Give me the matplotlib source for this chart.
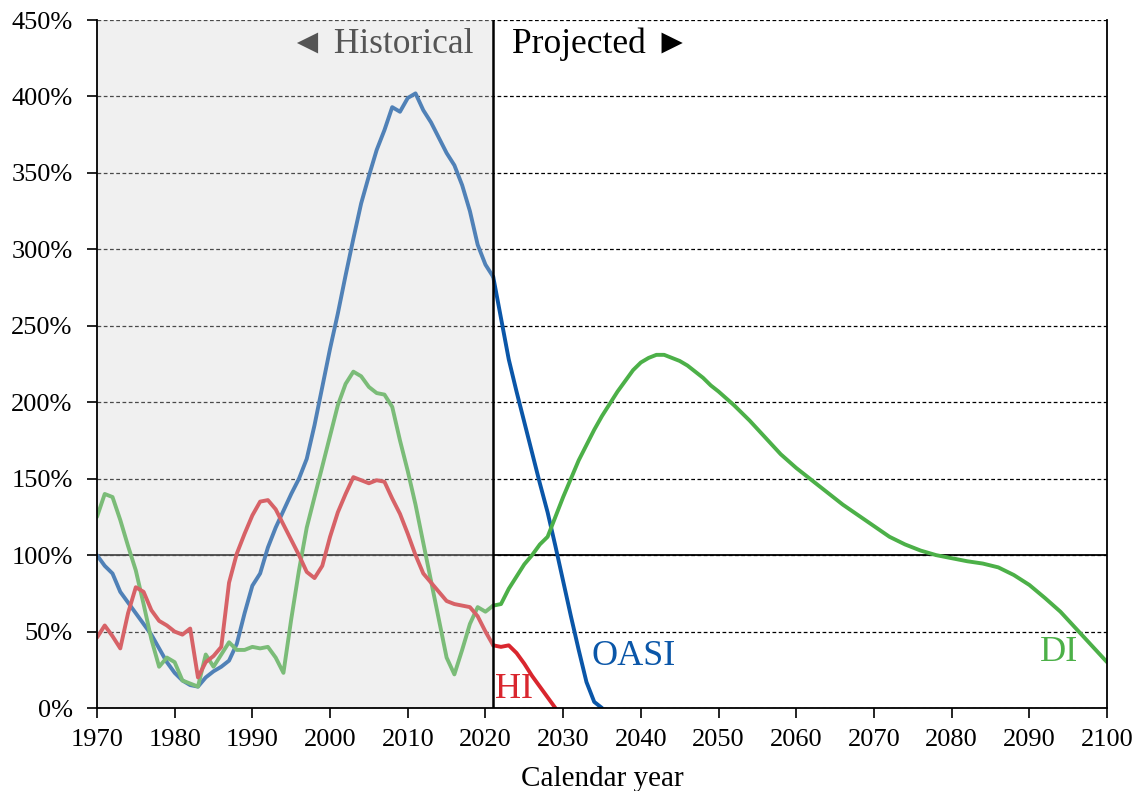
import numpy as np
import matplotlib
matplotlib.use('Agg')
import matplotlib.pyplot as plt
from matplotlib.patches import Rectangle
from matplotlib import ticker

plt.rcParams['font.family'] = ['Liberation Serif', 'DejaVu Sans']

# historical trust fund ratios, 1970-2021 (percent)
hist_years = list(range(1970, 2022))
oasi_hist = [100, 93, 88, 76, 69, 62, 55, 48, 39, 30,
             23, 18, 15, 14, 20, 24, 27, 31, 42, 62,
             80, 88, 105, 118, 129, 140, 150, 163, 185, 210,
             235, 258, 283, 307, 330, 348, 365, 378, 393, 390,
             399, 402, 391, 383, 373, 363, 355, 342, 325, 303,
             290, 282]
di_hist = [125, 140, 138, 123, 106, 90, 68, 45, 27, 33,
           30, 18, 16, 14, 35, 27, 35, 43, 38, 38,
           40, 39, 40, 33, 23, 58, 90, 118, 138, 158,
           178, 198, 212, 220, 217, 210, 206, 205, 197, 175,
           155, 133, 108, 83, 58, 33, 22, 38, 55, 66,
           63, 67]
hi_hist = [46, 54, 47, 39, 62, 79, 76, 64, 57, 54,
           50, 48, 52, 20, 30, 34, 40, 82, 101, 114,
           126, 135, 136, 130, 120, 110, 100, 89, 85, 93,
           112, 128, 140, 151, 149, 147, 149, 148, 137, 127,
           114, 100, 88, 82, 76, 70, 68, 67, 66, 60,
           50, 41]

# projections
oasi_proj_years = list(range(2021, 2036))
oasi_proj = [282, 255, 228, 207, 187, 167, 147, 128, 106, 83, 60, 38, 17, 4, 0]

hi_proj_years = list(range(2021, 2030))
hi_proj = [41, 40, 41, 36, 29, 21, 14, 7, 0]

di_proj_years = list(range(2021, 2051)) + list(range(2052, 2101, 2))
di_proj = [67, 68, 78, 86, 94, 100, 107, 112, 125, 138,
           150, 162, 172, 182, 191, 199, 207, 214, 221, 226,
           229, 231, 231, 229, 227, 224, 220, 216, 211, 207,
           198, 188, 177, 166, 157, 149, 141, 133, 126, 119,
           112, 107, 103, 100, 98, 96, 94.5, 92, 87, 80.5,
           72, 63, 52, 41, 30]

c_oasi = '#0a56a8'
c_di = '#4cb048'
c_hi = '#d9262e'

fig = plt.figure(figsize=(11.38, 7.91), dpi=100)
ax = fig.add_axes([0.0852, 0.1049, 0.8876, 0.8698])

lw = 2.8
for xs, ys, c in [(hist_years, oasi_hist, c_oasi),
                  (hist_years, di_hist, c_di),
                  (hist_years, hi_hist, c_hi),
                  (oasi_proj_years, oasi_proj, c_oasi),
                  (di_proj_years, di_proj, c_di),
                  (hi_proj_years, hi_proj, c_hi)]:
    ax.plot(xs, ys, color=c, lw=lw, zorder=2,
            solid_joinstyle='round', solid_capstyle='round')

# grey veil over the historical period
ax.add_patch(Rectangle((1970, 0), 51, 450, facecolor='#d4d4d4', alpha=0.35,
                       edgecolor='none', zorder=2.5))

ax.axhline(100, color='black', lw=1.3, zorder=1)
ax.axvline(2021, color='black', lw=1.8, zorder=4)

ax.set_xlim(1970, 2100)
ax.set_ylim(0, 450)
ax.xaxis.set_major_locator(ticker.MultipleLocator(10))
ax.yaxis.set_major_locator(ticker.MultipleLocator(50))
ax.yaxis.set_major_formatter(ticker.FuncFormatter(lambda v, p: '%d%%' % v))
ax.set_axisbelow(True)
ax.yaxis.grid(True, color='black', lw=0.9, ls=(0, (3, 2)))

ax.spines['top'].set_visible(False)
for s in ['left', 'right', 'bottom']:
    ax.spines[s].set_linewidth(1.3)
    ax.spines[s].set_zorder(4)
ax.tick_params(direction='out', length=7, width=1.2, labelsize=19)
ax.tick_params(axis='x', pad=8)
ax.tick_params(axis='y', pad=10.5)
ax.set_xlabel('Calendar year', fontsize=21, labelpad=11)

ax.text(2018.4, 434, '\u25c4 Historical', fontsize=25.5, color='#555555',
        ha='right', va='center', zorder=5)
ax.text(2023.4, 434, 'Projected \u25ba', fontsize=25.5, color='black',
        ha='left', va='center', zorder=5)
ax.text(2033.7, 28, 'OASI', fontsize=26, color=c_oasi, ha='left', va='baseline')
ax.text(2021.2, 6.5, 'HI', fontsize=26, color=c_hi, ha='left', va='baseline')
ax.text(2091.4, 31, 'DI', fontsize=26, color=c_di, ha='left', va='baseline')

fig.savefig('out.png', dpi=100)
